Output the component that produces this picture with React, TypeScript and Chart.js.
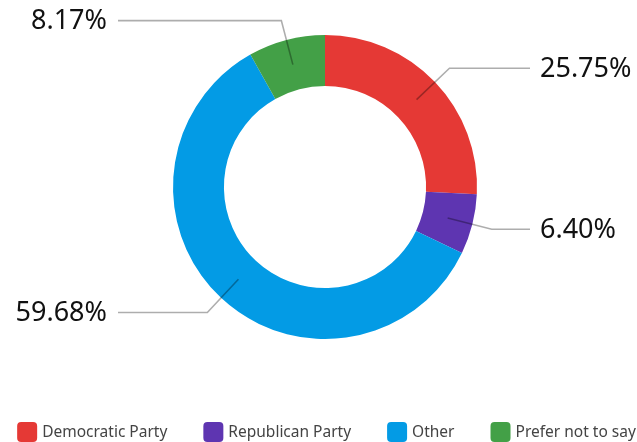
import React, { useEffect, useRef } from 'react';
import { Chart, registerables } from 'chart.js';

Chart.register(...registerables);

const categories = ['Democratic Party', 'Republican Party', 'Other', 'Prefer not to say'];
const shares = [25.75, 6.4, 59.68, 8.17];
const colors = ['#E53935', '#5E35B1', '#039BE5', '#43A047'];

const FONT = '"Noto Sans", "Open Sans", sans-serif';

const calloutPlugin = {
  id: 'callouts',
  afterDatasetsDraw(chart: any) {
    const ctx = chart.ctx;
    const meta = chart.getDatasetMeta(0);
    const values: number[] = chart.data.datasets[0].data;
    ctx.save();
    meta.data.forEach((arc: any, i: number) => {
      const p = arc.getProps(['x', 'y', 'startAngle', 'endAngle', 'innerRadius', 'outerRadius'], true);
      const mid = (p.startAngle + p.endAngle) / 2;
      const c = Math.cos(mid);
      const s = Math.sin(mid);
      const r0 = (p.innerRadius + p.outerRadius) / 2;
      const r1 = p.outerRadius + 20;
      const x0 = p.x + c * r0;
      const y0 = p.y + s * r0;
      const x1 = p.x + c * r1;
      const y1 = p.y + s * r1;
      const right = c >= 0;
      const x2 = right ? p.x + p.outerRadius + 53 : p.x - p.outerRadius - 55;
      ctx.beginPath();
      ctx.moveTo(x0, y0);
      ctx.lineTo(x1, y1);
      ctx.lineTo(x2, y1);
      ctx.strokeStyle = 'rgba(0,0,0,0.32)';
      ctx.lineWidth = 1.6;
      ctx.stroke();
      ctx.font = `27px ${FONT}`;
      ctx.fillStyle = '#111';
      ctx.textBaseline = 'middle';
      ctx.textAlign = right ? 'left' : 'right';
      const txt = values[i].toFixed(2) + '%';
      ctx.fillText(txt, right ? x2 + 10 : x2 - 11, y1 + 1);
    });
    ctx.restore();
  },
};

const legendPlugin = {
  id: 'customLegend',
  afterDraw(chart: any) {
    const ctx = chart.ctx;
    const labels: string[] = chart.data.labels;
    const bg: string[] = chart.data.datasets[0].backgroundColor;
    const box = 20;
    const textGap = 5;
    const itemGap = 36;
    ctx.save();
    ctx.font = `15.5px ${FONT}`;
    const widths = labels.map((l) => box + textGap + ctx.measureText(l).width);
    const total = widths.reduce((a, b) => a + b, 0) + itemGap * (labels.length - 1);
    let x = (chart.width - total) / 2;
    const cy = chart.height - 18;
    labels.forEach((l, i) => {
      ctx.fillStyle = bg[i];
      ctx.beginPath();
      (ctx as any).roundRect(x, cy - box / 2, box, box, 4);
      ctx.fill();
      ctx.fillStyle = '#444';
      ctx.textBaseline = 'middle';
      ctx.textAlign = 'left';
      ctx.fillText(l, x + box + textGap, cy + 1);
      x += widths[i] + itemGap;
    });
    ctx.restore();
  },
};

export default function App() {
  const ref = useRef<HTMLCanvasElement | null>(null);
  useEffect(() => {
    if (!ref.current) return;
    const chart = new Chart(ref.current, {
      type: 'doughnut',
      data: {
        labels: categories,
        datasets: [
          {
            data: shares,
            backgroundColor: colors,
            borderWidth: 0,
            hoverOffset: 0,
          },
        ],
      },
      options: {
        responsive: false,
        animation: false,
        cutout: '66.5%',
        layout: { padding: { top: 27, bottom: 111, left: 0, right: 3 } },
        plugins: {
          legend: { display: false },
          tooltip: { enabled: false },
        },
      },
      plugins: [calloutPlugin, legendPlugin],
    });
    return () => chart.destroy();
  }, []);
  return (
    <div style={{ position: 'fixed', left: 8, top: 8, width: 637, height: 442 }}>
      <canvas ref={ref} width={637} height={442} style={{ width: 637, height: 442, display: 'block' }} />
    </div>
  );
}
